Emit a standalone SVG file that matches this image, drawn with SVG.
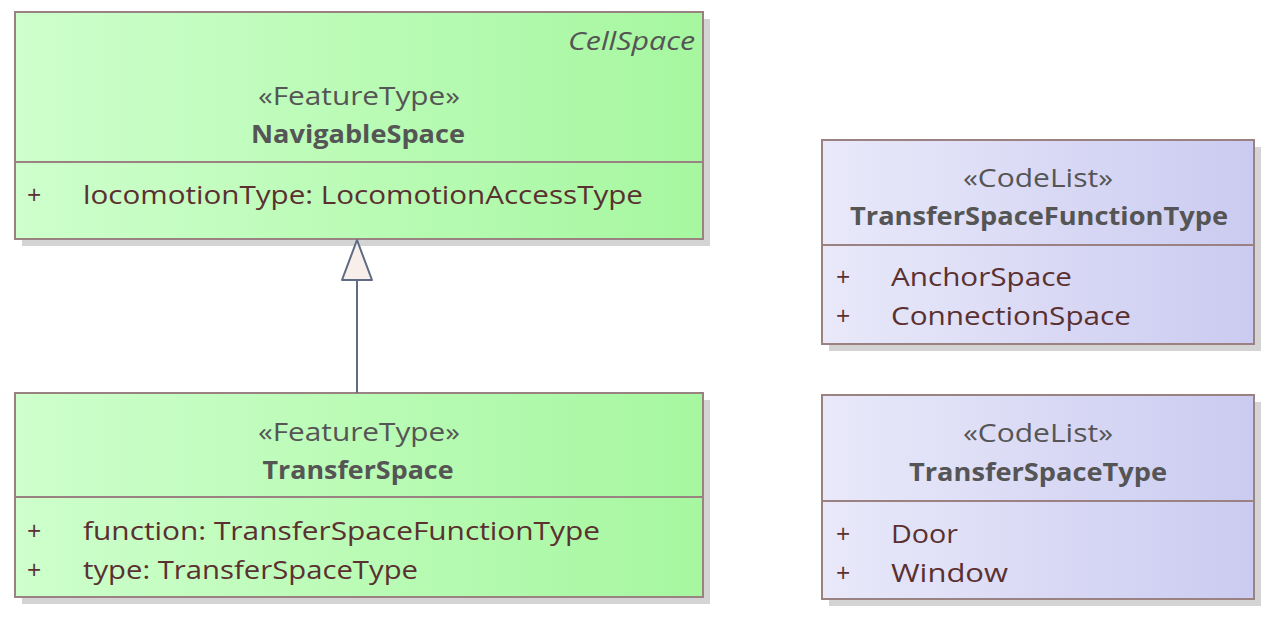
<svg xmlns="http://www.w3.org/2000/svg" width="1274" height="622" viewBox="0 0 1274 622">
<defs>
<linearGradient id="g" x1="0" y1="0" x2="1" y2="0"><stop offset="0" stop-color="#ceffcc"/><stop offset="1" stop-color="#a6f7a0"/></linearGradient>
<linearGradient id="p" x1="0" y1="0" x2="1" y2="0"><stop offset="0" stop-color="#e9e9fa"/><stop offset="1" stop-color="#cbcbf1"/></linearGradient>
<style>
.sh{fill:#d4d4d4}
.bx{stroke:#9a8282;stroke-width:2}
.dv{stroke:#9a8282;stroke-width:2}
text{font-family:"Open Sans","Noto Sans",sans-serif;font-size:25px}
.st{fill:#555555;text-anchor:middle}
.ti{fill:#555555;text-anchor:middle;font-weight:bold}
.it{fill:#555555;font-style:italic;text-anchor:end}
.at{fill:#5b3030}
</style>
</defs>
<g id="NavigableSpace">
<rect class="sh" x="22" y="19" width="688" height="227"/>
<rect class="bx" x="15" y="12" width="688" height="227" fill="url(#g)"/>
<line class="dv" x1="15" y1="162" x2="703" y2="162"/>
<text class="it" x="695" y="50" textLength="127" lengthAdjust="spacingAndGlyphs">CellSpace</text>
<text class="st" x="359" y="105" textLength="202" lengthAdjust="spacingAndGlyphs">«FeatureType»</text>
<text class="ti" x="358" y="143" textLength="214" lengthAdjust="spacingAndGlyphs">NavigableSpace</text>
<text class="at" x="27" y="204">+</text>
<text class="at" x="83" y="204" textLength="560" lengthAdjust="spacingAndGlyphs">locomotionType: LocomotionAccessType</text>
</g>
<g id="TransferSpace">
<rect class="sh" x="22" y="400" width="688" height="204"/>
<rect class="bx" x="15" y="393" width="688" height="204" fill="url(#g)"/>
<line class="dv" x1="15" y1="497" x2="703" y2="497"/>
<text class="st" x="359" y="441" textLength="202" lengthAdjust="spacingAndGlyphs">«FeatureType»</text>
<text class="ti" x="358" y="479" textLength="191" lengthAdjust="spacingAndGlyphs">TransferSpace</text>
<text class="at" x="27" y="540">+</text>
<text class="at" x="83" y="540" textLength="517" lengthAdjust="spacingAndGlyphs">function: TransferSpaceFunctionType</text>
<text class="at" x="27" y="579">+</text>
<text class="at" x="83" y="579" textLength="335" lengthAdjust="spacingAndGlyphs">type: TransferSpaceType</text>
</g>
<g id="TransferSpaceFunctionType">
<rect class="sh" x="829" y="147" width="432" height="204"/>
<rect class="bx" x="822" y="140" width="432" height="204" fill="url(#p)"/>
<line class="dv" x1="822" y1="245" x2="1254" y2="245"/>
<text class="st" x="1038" y="187" textLength="150" lengthAdjust="spacingAndGlyphs">«CodeList»</text>
<text class="ti" x="1039" y="225" textLength="378" lengthAdjust="spacingAndGlyphs">TransferSpaceFunctionType</text>
<text class="at" x="836" y="286">+</text>
<text class="at" x="891" y="286" textLength="181" lengthAdjust="spacingAndGlyphs">AnchorSpace</text>
<text class="at" x="836" y="325">+</text>
<text class="at" x="891" y="325" textLength="240" lengthAdjust="spacingAndGlyphs">ConnectionSpace</text>
</g>
<g id="TransferSpaceType">
<rect class="sh" x="829" y="402" width="432" height="204"/>
<rect class="bx" x="822" y="395" width="432" height="204" fill="url(#p)"/>
<line class="dv" x1="822" y1="501" x2="1254" y2="501"/>
<text class="st" x="1038" y="442" textLength="150" lengthAdjust="spacingAndGlyphs">«CodeList»</text>
<text class="ti" x="1038" y="481" textLength="258" lengthAdjust="spacingAndGlyphs">TransferSpaceType</text>
<text class="at" x="836" y="543">+</text>
<text class="at" x="891" y="543" textLength="67" lengthAdjust="spacingAndGlyphs">Door</text>
<text class="at" x="836" y="582">+</text>
<text class="at" x="891" y="582" textLength="117" lengthAdjust="spacingAndGlyphs">Window</text>
</g>
<g id="connectors">
<line x1="357" y1="393" x2="357" y2="280" stroke="#5f6a85" stroke-width="2"/>
<polygon points="357,240 372,280 342,280" fill="#f8eeea" stroke="#5f6a85" stroke-width="2" stroke-linejoin="round"/>
</g>
</svg>
